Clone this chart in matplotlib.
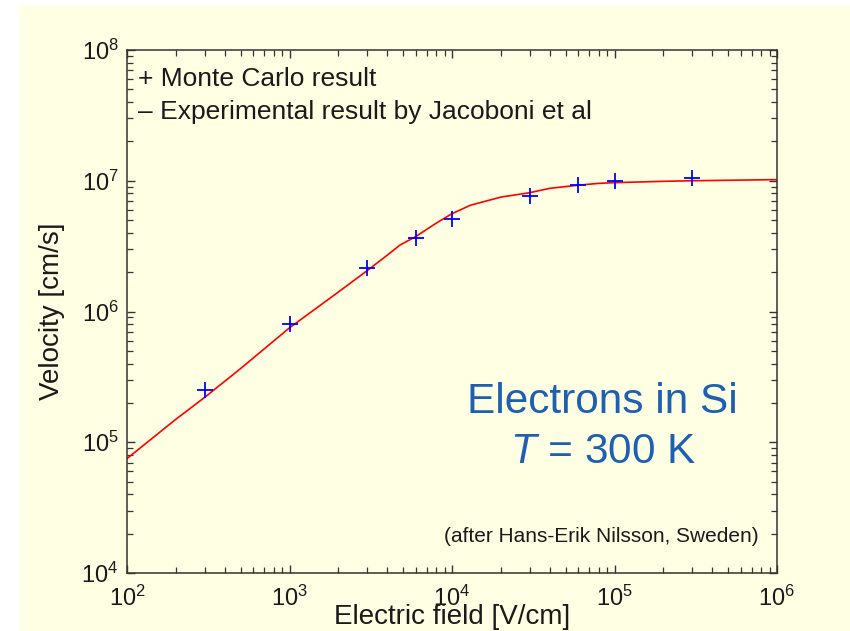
import numpy as np
import matplotlib
matplotlib.use("Agg")
import matplotlib.pyplot as plt
from matplotlib.patches import Rectangle

# Monte Carlo points (blue +)
mc_field = [300, 1000, 3000, 6000, 1e4, 3e4, 6e4, 1e5, 3e5]
mc_vel = [2.5e5, 8.0e5, 2.15e6, 3.65e6, 5.1e6, 7.6e6, 9.3e6, 1.0e7, 1.05e7]

# experimental curve (red line)
exp_field = [100, 200, 300, 500, 1000, 2000, 3000, 4000, 4800, 6000, 8000, 1e4,
             1.3e4, 2e4, 3e4, 4e4, 6e4, 8e4, 1e5, 2e5, 3e5, 1e6]
exp_vel = [7.5e4, 1.5e5, 2.2e5, 3.66e5, 7.5e5, 1.41e6, 2.05e6, 2.7e6, 3.23e6, 3.75e6,
           4.74e6, 5.6e6, 6.5e6, 7.5e6, 8.1e6, 8.75e6, 9.25e6, 9.55e6, 9.67e6, 9.9e6,
           1.0e7, 1.02e7]

fam = "Liberation Sans"
plt.rcParams["font.family"] = [fam, "DejaVu Sans"]
plt.rcParams["mathtext.fontset"] = "custom"
plt.rcParams["mathtext.rm"] = fam
plt.rcParams["mathtext.it"] = "Liberation Sans:italic"

bg = "#ffffe3"
ink = "#1a1a1a"

fig = plt.figure(figsize=(8.5, 6.31), dpi=100, facecolor="white")
fig.patches.append(Rectangle((19 / 850, 0), 1, 1 - 6 / 631, transform=fig.transFigure,
                             facecolor=bg, edgecolor="none", zorder=-10))
ax = fig.add_axes([127 / 850, 1 - 573 / 631, 650 / 850, 523 / 631])
ax.set_facecolor(bg)

ax.plot(exp_field, exp_vel, color="red", lw=1.2)
ax.plot(mc_field, mc_vel, "+", color="blue", ms=11, mew=1.3)

ax.set_xscale("log")
ax.set_yscale("log")
ax.set_xlim(1e2, 1e6)
ax.set_ylim(1e4, 1e8)

ax.tick_params(which="both", direction="in", top=True, right=True, colors="#333333",
               labelcolor=ink, labelsize=17)
ax.tick_params(which="major", length=6, width=1)
ax.tick_params(which="minor", length=4, width=0.9)
ax.tick_params(axis="y", pad=6)
ax.tick_params(axis="x", pad=9)
for s in ax.spines.values():
    s.set_color("#333333")
    s.set_linewidth(1.1)

ax.set_xlabel("Electric field [V/cm]", fontsize=20, color=ink, labelpad=-5)
ax.set_ylabel("Velocity [cm/s]", fontsize=20, color=ink, labelpad=12)

ax.text(0.017, 0.944, "+ Monte Carlo result", transform=ax.transAxes, fontsize=19,
        color=ink, va="center")
ax.text(0.017, 0.882, "\u2013 Experimental result by Jacoboni et al", transform=ax.transAxes,
        fontsize=19, color=ink, va="center")

blue_txt = "#1f5fb0"
ax.text(0.732, 0.327, "Electrons in Si", transform=ax.transAxes, fontsize=30.5,
        color=blue_txt, ha="center", va="center")
ax.text(0.732, 0.231, r"$T$ = 300 K", transform=ax.transAxes, fontsize=30.5,
        color=blue_txt, ha="center", va="center")

ax.text(0.971, 0.069, "(after Hans-Erik Nilsson, Sweden)", transform=ax.transAxes,
        fontsize=15, color=ink, ha="right", va="center")

fig.savefig("out.png", dpi=100, facecolor=fig.get_facecolor())
